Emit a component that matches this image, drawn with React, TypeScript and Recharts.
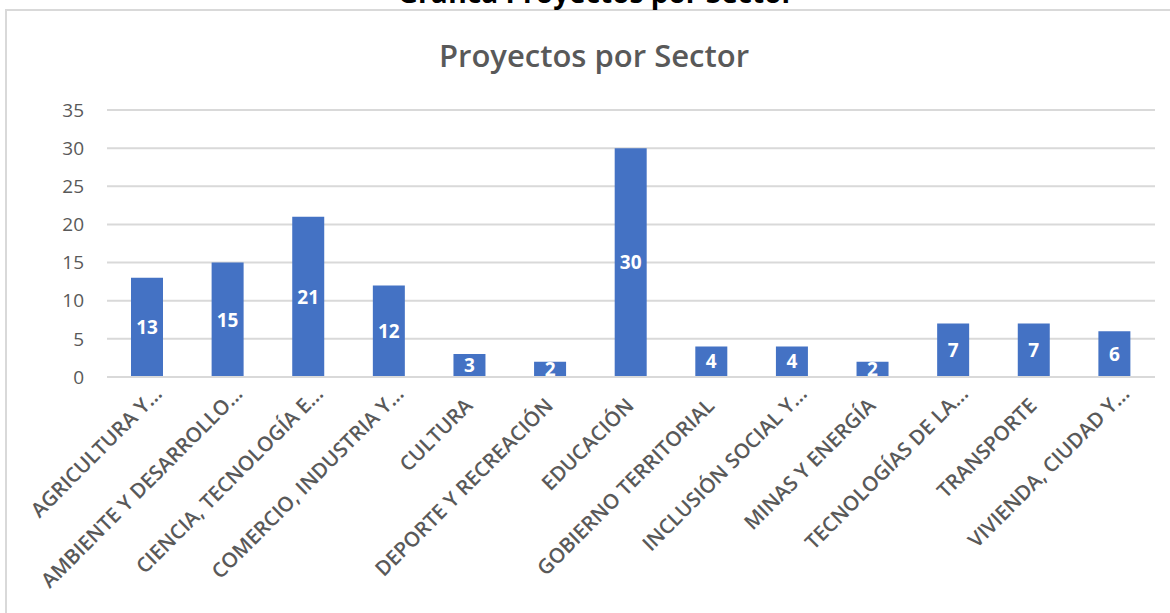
import React from 'react';
import { BarChart, Bar, XAxis, YAxis, CartesianGrid, LabelList } from 'recharts';

const categories = [
  'AGRICULTURA Y...',
  'AMBIENTE Y DESARROLLO...',
  'CIENCIA, TECNOLOGÍA E...',
  'COMERCIO, INDUSTRIA Y...',
  'CULTURA',
  'DEPORTE Y RECREACIÓN',
  'EDUCACIÓN',
  'GOBIERNO TERRITORIAL',
  'INCLUSIÓN SOCIAL Y...',
  'MINAS Y ENERGÍA',
  'TECNOLOGÍAS DE LA...',
  'TRANSPORTE',
  'VIVIENDA, CIUDAD Y...',
];
const proyectos = [13, 15, 21, 12, 3, 2, 30, 4, 4, 2, 7, 7, 6];
const yTicks = [0, 5, 10, 15, 20, 25, 30, 35];
const pageTitle = 'Gráfica Proyectos por Sector';
const chartTitle = 'Proyectos por Sector';

const data = categories.map((c, i) => ({ sector: c, value: proyectos[i] }));

const FONT = '"Open Sans", sans-serif';
const GRAY = '#595959';

const XTick = (props: any) => {
  const { x, y, payload } = props;
  const label: string = String(payload.value);
  const hasEll = label.endsWith('...');
  const main = hasEll ? label.slice(0, -3) : label;
  const ax = x + 4;
  const ay = y + 30;
  return (
    <g transform={`rotate(-45 ${ax} ${ay})`}>
      <text x={ax} y={ay} textAnchor="end" fill={GRAY} fontSize={20.5} fontWeight={600} fontFamily={FONT}>
        {main}
      </text>
      {hasEll && (
        <text x={ax} y={ay} textAnchor="start" fill={GRAY} fontSize={20.5} fontWeight={600} fontFamily={FONT}>
          ...
        </text>
      )}
    </g>
  );
};

export default function App() {
  return (
    <div
      style={{
        position: 'absolute',
        left: 0,
        top: 0,
        width: 1170,
        height: 613,
        overflow: 'hidden',
        background: '#fff',
      }}
    >
      <div
        style={{
          position: 'absolute',
          left: 5,
          top: 9,
          width: 1200,
          height: 700,
          border: '2px solid #D9D9D9',
          boxSizing: 'border-box',
        }}
      />
      <div
        style={{
          position: 'absolute',
          left: 0,
          width: 1192,
          top: -26,
          textAlign: 'center',
          fontFamily: FONT,
          fontWeight: 700,
          fontSize: 28,
          lineHeight: '36px',
          color: '#000',
          whiteSpace: 'nowrap',
        }}
      >
        {pageTitle}
      </div>
      <div
        style={{
          position: 'absolute',
          left: 0,
          width: 1188,
          top: 35,
          textAlign: 'center',
          fontFamily: FONT,
          fontWeight: 600,
          fontSize: 31,
          lineHeight: '40px',
          color: GRAY,
          whiteSpace: 'nowrap',
        }}
      >
        {chartTitle}
      </div>
      <div style={{ position: 'absolute', left: 0, top: 0 }}>
        <BarChart
          width={1170}
          height={613}
          data={data}
          margin={{ top: 110, right: 15, bottom: 0, left: 47 }}
        >
          <CartesianGrid vertical={false} stroke="#D9D9D9" strokeWidth={2} />
          <YAxis
            width={60}
            domain={[0, 35]}
            ticks={yTicks}
            axisLine={false}
            tickLine={false}
            tickSize={0}
            tickMargin={23}
            interval={0}
            tick={{ fill: GRAY, fontSize: 19, fontFamily: FONT }}
          />
          <XAxis
            dataKey="sector"
            height={236}
            interval={0}
            axisLine={{ stroke: '#D9D9D9', strokeWidth: 2 }}
            tickLine={false}
            tickSize={0}
            tickMargin={0}
            tick={<XTick />}
          />
          <Bar dataKey="value" fill="#4472C4" barSize={32} isAnimationActive={false}>
            <LabelList
              dataKey="value"
              position="center"
              fill="#FFFFFF"
              fontSize={19}
              fontWeight={700}
              fontFamily={FONT}
            />
          </Bar>
        </BarChart>
      </div>
    </div>
  );
}
